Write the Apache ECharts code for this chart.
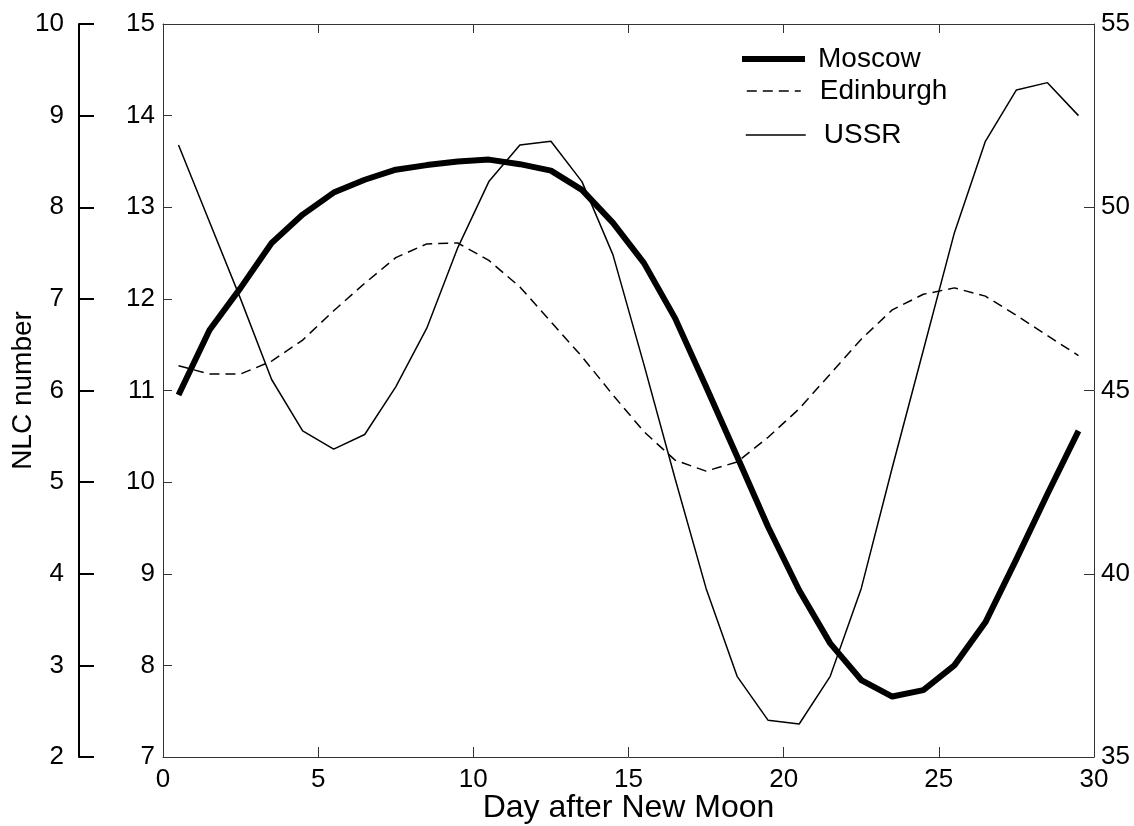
<!DOCTYPE html>
<html>
<head>
<meta charset="utf-8">
<title>NLC number vs day after New Moon</title>
<script src="https://cdn.jsdelivr.net/npm/echarts@6/dist/echarts.min.js"></script>
<style>
  html, body { margin: 0; padding: 0; background: #fff; }
  #chart { width: 1134px; height: 826px; }
</style>
</head>
<body>
<div id="chart"></div>
<script>
// Day after New Moon (bin centres)
const days = [0.5, 1.5, 2.5, 3.5, 4.5, 5.5, 6.5, 7.5, 8.5, 9.5,
              10.5, 11.5, 12.5, 13.5, 14.5, 15.5, 16.5, 17.5, 18.5, 19.5,
              20.5, 21.5, 22.5, 23.5, 24.5, 25.5, 26.5, 27.5, 28.5, 29.5];

// Moscow, outer left scale (2-10)
const moscow = [5.95, 6.66, 7.12, 7.61, 7.92, 8.16, 8.30, 8.41, 8.46, 8.50,
                8.52, 8.47, 8.40, 8.19, 7.83, 7.39, 6.79, 6.04, 5.28, 4.51,
                3.82, 3.24, 2.84, 2.66, 2.73, 3.00, 3.47, 4.16, 4.87, 5.56];

// Edinburgh, inner left scale (7-15)
const edinburgh = [11.27, 11.18, 11.18, 11.32, 11.55, 11.87, 12.17, 12.45, 12.60, 12.61,
                   12.42, 12.13, 11.75, 11.37, 10.95, 10.55, 10.24, 10.12, 10.22, 10.49,
                   10.80, 11.18, 11.56, 11.88, 12.05, 12.12, 12.03, 11.82, 11.60, 11.38];

// USSR, right scale (35-55)
const ussr = [51.7, 49.6, 47.5, 45.3, 43.9, 43.4, 43.8, 45.1, 46.7, 48.9,
              50.7, 51.7, 51.8, 50.7, 48.7, 45.7, 42.6, 39.6, 37.2, 36.0,
              35.9, 37.2, 39.6, 42.9, 46.1, 49.3, 51.8, 53.2, 53.4, 52.5];

const seriesNames = ['Moscow', 'Edinburgh', 'USSR'];
const xTitle = 'Day after New Moon';
const yTitle = 'NLC number';

const FONT = '"Liberation Sans", Arial, sans-serif';
const boxColor = '#333';

function pairs(vals) {
  return days.map((d, i) => [d, vals[i]]);
}

const chart = echarts.init(document.getElementById('chart'), null, { renderer: 'canvas' });

const labelStyle = { color: '#000', fontSize: 26, fontFamily: FONT };
// legend entries draw only the line sample, no marker
const hiddenMarker = { color: 'rgba(0,0,0,0)', borderWidth: 0, opacity: 0 };
const legendText = { color: '#000', fontSize: 28, fontFamily: FONT };

chart.setOption({
  animation: false,
  backgroundColor: '#fff',
  grid: { left: 163, right: 40, top: 24, bottom: 69, containLabel: false, outerBoundsMode: 'none' },
  xAxis: [
    {
      type: 'value', min: 0, max: 30, interval: 5, position: 'bottom',
      name: xTitle, nameLocation: 'middle', nameGap: 35, nameMoveOverlap: false,
      nameTextStyle: { color: '#000', fontSize: 32, fontFamily: FONT },
      axisLine: { show: true, onZero: false, lineStyle: { color: boxColor, width: 1 } },
      axisTick: { show: true, inside: true, length: 10, lineStyle: { color: boxColor } },
      axisLabel: Object.assign({ margin: 10 }, labelStyle),
      splitLine: { show: false }
    },
    {
      type: 'value', min: 0, max: 30, interval: 5, position: 'top',
      axisLine: { show: true, onZero: false, lineStyle: { color: boxColor, width: 1 } },
      axisTick: { show: true, inside: true, length: 9, lineStyle: { color: boxColor } },
      axisLabel: { show: false },
      splitLine: { show: false }
    }
  ],
  yAxis: [
    {
      // outer NLC scale
      type: 'value', min: 2, max: 10, interval: 1, position: 'left', offset: 84,
      name: yTitle, nameLocation: 'middle', nameGap: 42, nameRotate: 90, nameMoveOverlap: false,
      nameTextStyle: { color: '#000', fontSize: 28, fontFamily: FONT },
      axisLine: { show: true, onZero: false, lineStyle: { color: '#000', width: 2 } },
      axisTick: { show: true, inside: true, length: 15, lineStyle: { color: '#000', width: 2 } },
      axisLabel: Object.assign({ margin: 15 }, labelStyle),
      splitLine: { show: false }
    },
    {
      // inner scale on the plot frame
      type: 'value', min: 7, max: 15, interval: 1, position: 'left', offset: 0,
      axisLine: { show: true, onZero: false, lineStyle: { color: boxColor, width: 1 } },
      axisTick: { show: true, inside: true, length: 9, lineStyle: { color: boxColor } },
      axisLabel: Object.assign({ margin: 8 }, labelStyle),
      splitLine: { show: false }
    },
    {
      // right scale
      type: 'value', min: 35, max: 55, interval: 5, position: 'right', offset: 0,
      axisLine: { show: true, onZero: false, lineStyle: { color: boxColor, width: 1 } },
      axisTick: { show: true, inside: true, length: 10, lineStyle: { color: boxColor } },
      axisLabel: Object.assign({ margin: 7 }, labelStyle),
      splitLine: { show: false }
    }
  ],
  legend: [
    {
      data: [seriesNames[0]], left: 739, top: 45, orient: 'vertical', padding: 0,
      itemWidth: 63, itemHeight: 28,
      lineStyle: { width: 6 }, itemStyle: hiddenMarker,
      textStyle: Object.assign({ padding: [0, 0, 0, 8] }, legendText)
    },
    {
      data: [seriesNames[1]], left: 746, top: 77, orient: 'vertical', padding: 0,
      itemWidth: 54, itemHeight: 28,
      lineStyle: { width: 1.5 }, itemStyle: hiddenMarker,
      textStyle: Object.assign({ padding: [0, 0, 0, 14] }, legendText)
    },
    {
      data: [seriesNames[2]], left: 745, top: 121, orient: 'vertical', padding: 0,
      itemWidth: 60, itemHeight: 28,
      lineStyle: { width: 1.5 }, itemStyle: hiddenMarker,
      textStyle: Object.assign({ padding: [0, 0, 0, 13] }, legendText)
    }
  ],
  series: [
    {
      name: seriesNames[0], type: 'line', xAxisIndex: 0, yAxisIndex: 0,
      data: pairs(moscow), symbol: 'none', smooth: false,
      lineStyle: { color: '#000', width: 6, join: 'round' },
      itemStyle: { color: '#000' }, z: 4
    },
    {
      name: seriesNames[1], type: 'line', xAxisIndex: 0, yAxisIndex: 1,
      data: pairs(edinburgh), symbol: 'none', smooth: false,
      lineStyle: { color: '#000', width: 1.5, type: [10, 6] },
      itemStyle: { color: '#000' }, z: 3
    },
    {
      name: seriesNames[2], type: 'line', xAxisIndex: 0, yAxisIndex: 2,
      data: pairs(ussr), symbol: 'none', smooth: false,
      lineStyle: { color: '#000', width: 1.5 },
      itemStyle: { color: '#000' }, z: 3
    }
  ]
});
</script>
</body>
</html>
